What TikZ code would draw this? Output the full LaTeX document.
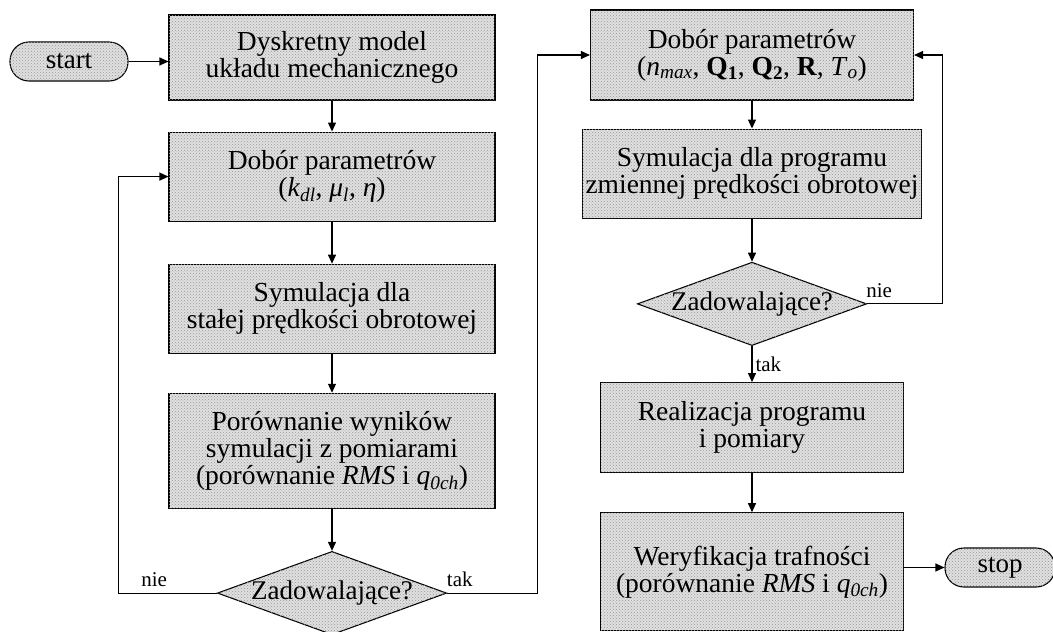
\documentclass[tikz,border=0pt]{standalone}
\usepackage{fontspec}
\setmainfont{Liberation Serif}
\usetikzlibrary{arrows.meta, positioning, shapes.geometric, patterns}
\newcommand{\sbi}[2]{\textit{#1}\textsubscript{\textit{#2}}}

\begin{document}
\begin{tikzpicture}[x=1pt, y=-1pt,
    >={Triangle[length=9pt, width=8pt]}, line width=1.1pt,
    block/.style={draw, fill=gray!24, postaction={pattern=crosshatch dots, pattern color=gray!80}, minimum width=326pt, minimum height=89pt, font=\fontsize{27.5}{27}\selectfont, align=center},
    term/.style={draw, rounded corners=19pt, fill=gray!24, postaction={pattern=crosshatch dots, pattern color=gray!80}, minimum width=118pt, minimum height=39pt, font=\fontsize{27}{27}\selectfont},
    decision/.style={draw, diamond, aspect=2.75, inner sep=0pt, fill=gray!24, postaction={pattern=crosshatch dots, pattern color=gray!80}, font=\fontsize{27}{27}\selectfont},
    arrow/.style={->},
    lbl/.style={font=\fontsize{21}{21}\selectfont, inner sep=6pt},
]
\useasboundingbox (0,0) rectangle (1053,632);
% left column
\node[term] (start) at (69,61.5) {start};
\node[block, minimum height=85pt] (model) at (332,57.5) {Dyskretny model\\układu mechanicznego};
\node[block, below=31pt of model] (par1) {Dobór parametrów\\(\sbi{k}{dl}, \sbi{μ}{l}, \textit{η})};
\node[block, below=42pt of par1] (sim1) {Symulacja dla\\stałej prędkości obrotowej};
\node[block, below=39pt of sim1, minimum height=115pt] (cmp) {Porównanie wyników\\symulacji z pomiarami\\(porównanie \textit{RMS} i \sbi{q}{0ch})};
\node[decision, below=42pt of cmp] (ok1) {Zadowalające?};
\draw[arrow] (start) -- (start -| model.west);
\draw[arrow] (model) -- (par1); \draw[arrow] (par1) -- (sim1); \draw[arrow] (sim1) -- (cmp); \draw[arrow] (cmp) -- (ok1);
% right column
\node[block, minimum width=323pt, minimum height=90pt] (par2) at (752,55) {Dobór parametrów\\(\sbi{n}{max}, \textbf{Q}\textsubscript{\textbf{1}}, \textbf{Q}\textsubscript{\textbf{2}}, \textbf{R}, \sbi{T}{o})};
\node[block, minimum width=323pt, below=28pt of par2] (sim2) {Symulacja dla programu\\zmiennej prędkości obrotowej};
\node[decision, below=43pt of sim2] (ok2) {Zadowalające?};
\node[block, minimum width=303pt, minimum height=90pt, below=36pt of ok2] (real) {Realizacja programu\\i pomiary};
\node[block, minimum width=303pt, minimum height=118pt, below=39pt of real] (ver) {Weryfikacja trafności\\(porównanie \textit{RMS} i \sbi{q}{0ch})};
\node[term, minimum width=110pt] (stop) at (1000,567.5) {stop};
\draw[arrow] (par2) -- (sim2); \draw[arrow] (sim2) -- (ok2);
\draw[arrow] (ok2) -- node[lbl, right, inner sep=3pt] {tak} (real);
\draw[arrow] (real) -- (ver); \draw[arrow] (ver.east |- stop) -- (stop);
% loops
\draw[arrow] (ok1.west) -- node[lbl, above, pos=0.64] {nie} ++(-98,0) |- (par1.west);
\draw[arrow] (ok1.east) -- node[lbl, above, pos=0.14] {tak} ++(90,0) |- (par2.west);
\draw[arrow] (ok2.east) -- node[lbl, above, pos=0.16] {nie} ++(75,0) |- (par2.east);
\end{tikzpicture}
\end{document}
